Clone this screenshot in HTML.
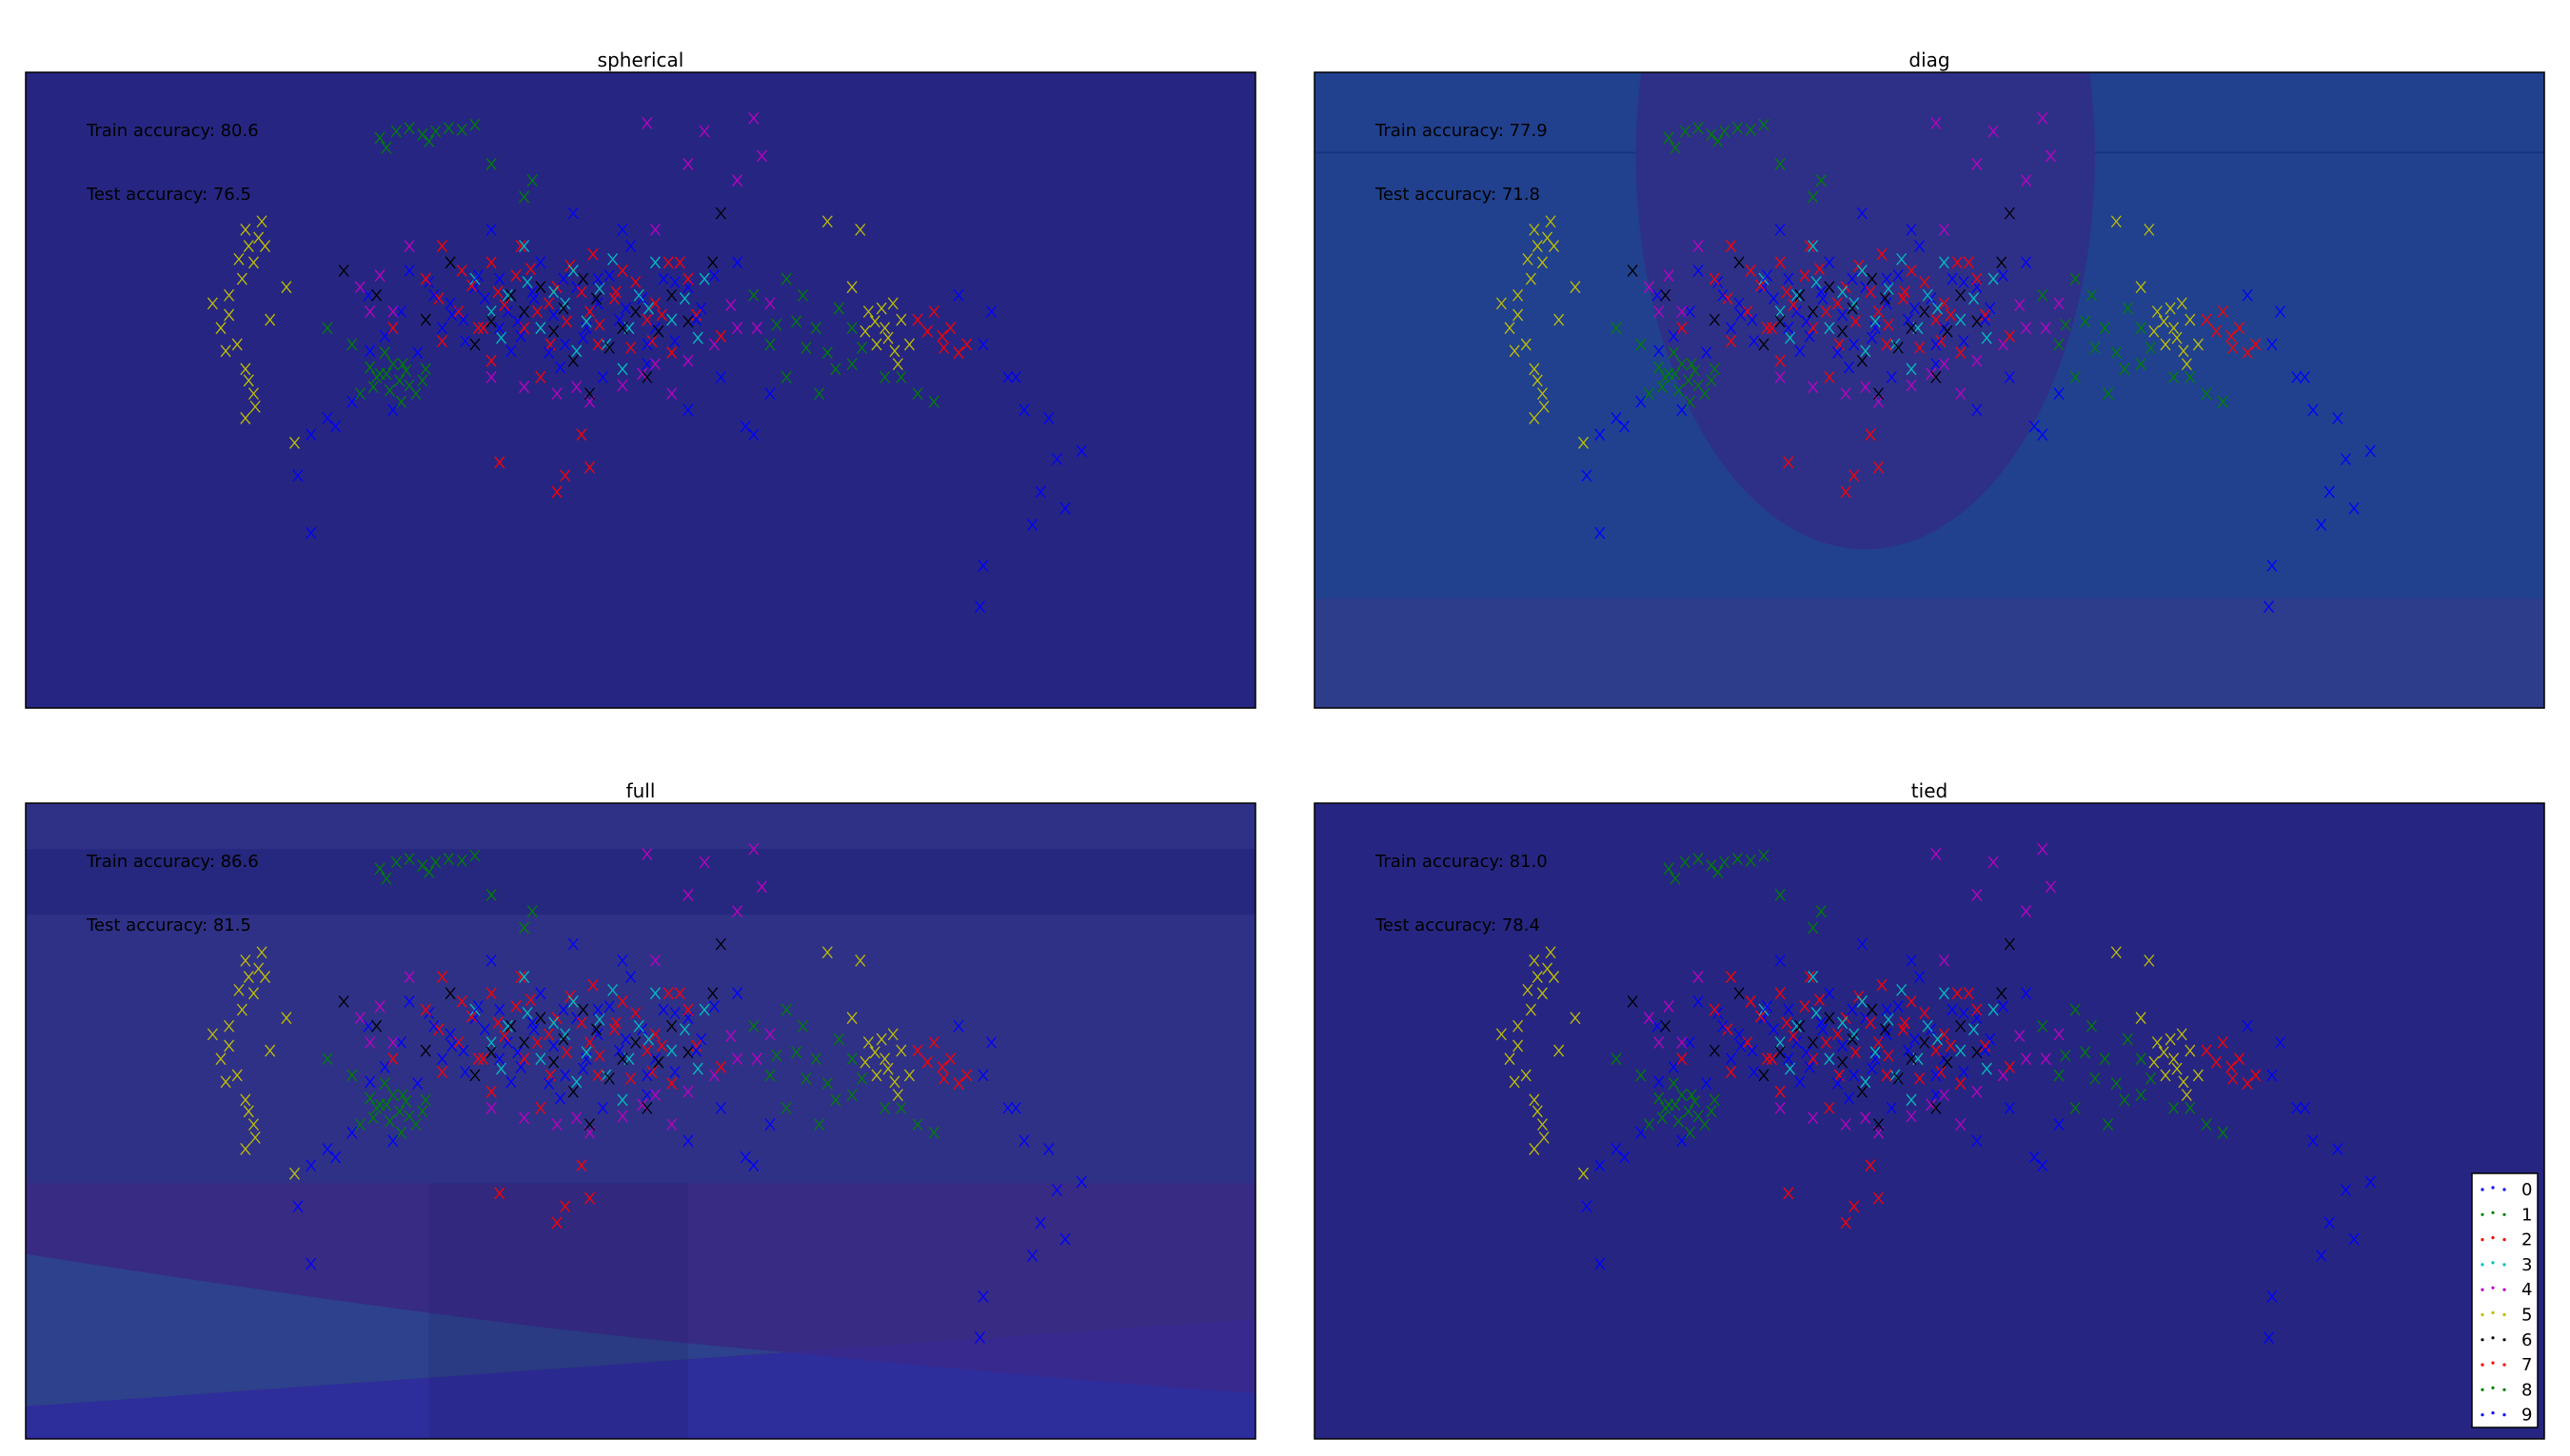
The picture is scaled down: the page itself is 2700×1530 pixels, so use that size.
<!DOCTYPE html>
<html><head><meta charset="utf-8">
<style>
html,body{margin:0;padding:0;background:#fff;}
body{width:2700px;height:1525px;overflow:hidden;font-family:"Liberation Sans","DejaVu Sans",sans-serif;}
svg text{font-family:"DejaVu Sans","Liberation Sans",sans-serif;}
</style></head>
<body>
<svg id="fig" width="2700" height="1525" viewBox="0 0 2700 1525" xmlns="http://www.w3.org/2000/svg">
<defs>
<clipPath id="c0"><rect x="27" y="76" width="1292" height="668"/></clipPath>
<clipPath id="c1"><rect x="1381" y="76" width="1292" height="668"/></clipPath>
<clipPath id="c2"><rect x="27" y="844" width="1292" height="668"/></clipPath>
<clipPath id="c3"><rect x="1381" y="844" width="1292" height="668"/></clipPath>
</defs>
</svg>
<script>
// data in reference-figure units (x 16..766, y 44..432 for the top-left panel)
const panelTitles = ["spherical","diag","full","tied"];
const trainAcc = ["80.6","77.9","86.6","81.0"];
const testAcc = ["76.5","71.8","81.5","78.4"];
const classLabels = ["0","1","2","3","4","5","6","7","8","9"];
const classColors = ["#0000ff","#008000","#ff0000","#00bfbf","#bf00bf","#bfbf00","#000000","#ff0000","#008000","#0000ff"];
const class0 = [[225,180],[250,165],[270,200],[290,175],[310,190],[330,160],[345,210],[365,185],[385,150],[400,200],[420,175],[440,230],[455,260],[600,210],[615,230],[625,250],[640,255],[645,280],[635,300],[650,310],[630,320],[660,275],[600,345],[598,370],[190,325],[182,290],[205,260],[215,245],[350,130],[380,140],[300,140],[420,250],
 [262,172],[275,185],[283,195],[296,182],[305,170],[318,205],[325,178],[338,192],[352,175],[358,200],[372,168],[378,195],[392,182],[405,170],[412,208],[428,188],[436,168],[284,208],[312,214],[342,224],[368,230],[395,222],[255,215],[245,190]];
const class1 = [[232,84],[242,80],[250,78],[258,82],[266,80],[274,78],[282,79],[290,76],[236,90],[262,86],[300,100],[520,200],[490,180],[505,215],[540,230],[560,240],[230,230],[240,222],[250,235],[220,240],[260,225],[470,210],[480,230],[320,120],
 [236,228],[244,232],[228,236],[248,226],[254,240],[226,224],[498,200],[512,188],[526,212],[486,196]];
const class2 = [[260,170],[280,190],[300,160],[320,200],[340,175],[360,190],[380,165],[400,185],[420,170],[300,220],[330,230],[560,195],[575,205],[585,215],[570,190],[345,290],[360,285],[340,300],[305,282],[355,265],[240,200],[410,215],
 [268,182],[288,174],[308,186],[315,168],[328,190],[348,162],[355,178],[366,198],[375,182],[388,172],[398,208],[408,160],[425,192],[292,200],[270,208],[336,210],[385,212],[318,150],[362,155]];
const class3 = [[290,170],[310,180],[330,200],[350,165],[370,210],[390,180],[410,195],[430,170],[320,150],[380,225],[400,160],[345,185],
 [300,190],[322,172],[338,178],[358,196],[366,176],[384,200],[396,188],[418,182],[426,206],[306,206],[352,214],[374,158]];
const class4 = [[220,175],[240,190],[300,230],[340,240],[380,235],[420,220],[450,200],[470,185],[430,80],[460,72],[465,95],[450,110],[420,100],[400,140],[250,150],[360,245],[410,240],[395,75],
 [226,190],[232,168],[320,236],[352,236],[392,228],[436,210],[446,186],[462,200],[400,222]];
const class5 = [[150,140],[158,145],[162,150],[155,160],[148,170],[160,135],[140,180],[135,200],[145,210],[150,225],[155,240],[150,255],[130,185],[165,195],[175,175],[530,190],[540,200],[545,185],[535,210],[550,195],[520,175],[555,210],[525,140],[505,135],[180,270],
 [152,150],[146,158],[140,192],[138,214],[152,232],[156,248],[534,196],[542,206],[546,214],[538,188],[528,202],[548,222]];
const class6 = [[210,165],[230,180],[260,195],[290,210],[320,190],[350,220],[380,200],[410,180],[435,160],[440,130],[360,240],[330,175],[395,230],[275,160],
 [300,196],[312,180],[338,202],[364,182],[372,212],[388,190],[402,202],[420,196],[344,188],[356,170]];
const class7 = [[270,150],[295,200],[335,185],[365,210],[395,195],[415,160],[440,205],[590,210],[580,200],
 [282,165],[304,178],[324,164],[346,196],[376,178],[404,192],[566,202],[576,212]];
const class8 = [[200,200],[215,210],[235,215],[245,245],[480,170],[510,225],[550,230],[500,240],[460,180],[570,245],[325,110],
 [238,238],[246,222],[232,228],[258,232],[474,198],[520,222],[492,212]];
const class9 = [[235,205],[265,180],[305,200],[335,215],[365,170],[395,210],[425,195],[450,160],[585,180],[605,190],[620,230],[190,265],[200,255],[470,240],[460,265],
 [276,192],[292,168],[316,196],[326,182],[344,170],[356,206],[382,188],[412,172],[226,214],[240,250]];
const classPoints = [class0,class1,class2,class3,class4,class5,class6,class7,class8,class9];

const NS="http://www.w3.org/2000/svg";
const svg=document.getElementById('fig');
const panels=[{x:27,y:76},{x:1381,y:76},{x:27,y:844},{x:1381,y:844}];
const S=1.7225;
function mk(tag,attrs,parent){const e=document.createElementNS(NS,tag);for(const k in attrs)e.setAttribute(k,attrs[k]);(parent||svg).appendChild(e);return e;}
function sx(p,x){return p.x+(x-16)*S;}
function sy(p,y){return p.y+(y-44)*S;}

panels.forEach((p,i)=>{
  const g=mk('g',{'clip-path':'url(#c'+i+')'});
  
  
  const bgc=['#262682','#21418f','#2f3187','#262682'][i];
  const bg=mk('rect',{x:p.x,y:p.y,width:1292,height:668,fill:bgc},g);
  
  
  if(i===1){
    mk('rect',{x:p.x,y:sy(p,365),width:1292,height:sy(p,432)-sy(p,365),fill:'#2e3c8c'},g);
    mk('line',{x1:p.x,x2:p.x+1292,y1:sy(p,93),y2:sy(p,93),stroke:'#17357f','stroke-width':2},g);
    const el=mk('ellipse',{cx:sx(p,1138-786),cy:sy(p,95),rx:140*S,ry:240*S,fill:'#2e3088'},g);
    
    
  }
  if(i===2){
    const Y=v=>p.y+(v-490)*S, X=v=>p.x+(v-16)*S;
    mk('rect',{x:p.x,y:Y(518),width:1292,height:Y(558)-Y(518),fill:'#25287e'},g);
    mk('rect',{x:p.x,y:Y(722),width:1292,height:Y(878)-Y(722),fill:'#372b84'},g);
    mk('path',{d:`M${X(16)} ${Y(858)} L${X(766)} ${Y(805)} L${X(766)} ${Y(878)} L${X(16)} ${Y(878)} Z`,fill:'#2e2d9c'},g);
    mk('path',{d:`M${X(16)} ${Y(765)} Q${X(300)} ${Y(810)} ${X(480)} ${Y(825)} L${X(16)} ${Y(858)} Z`,fill:'#2e418c'},g);
    mk('path',{d:`M${X(480)} ${Y(825)} Q${X(650)} ${Y(842)} ${X(766)} ${Y(850)} L${X(766)} ${Y(805)} Z`,fill:'#38298f'},g);
    mk('rect',{x:X(262),y:Y(722),width:X(420)-X(262),height:Y(878)-Y(722),fill:'#1a1a60','fill-opacity':0.18},g);
  }
  classPoints.forEach((pts,c)=>{
    pts.forEach(pt=>{
      const x=sx(p,pt[0]), y=sy(p,pt[1]);
      const m=mk('path',{d:`M${x-5} ${y-6}L${x+5} ${y+6}M${x+5} ${y-6}L${x-5} ${y+6}`,stroke:classColors[c],'stroke-width':1.3,fill:'none'},g);
      
      
    });
  });
  const fr=mk('rect',{x:p.x,y:p.y,width:1292,height:668,fill:'none',stroke:'#000','stroke-width':1.5});
  
  
  const t=mk('text',{x:p.x+646,y:p.y-6,'text-anchor':'middle','font-size':20,fill:'#000'});
  t.textContent=panelTitles[i];
  
  
  const a=mk('text',{x:p.x+64,y:p.y+67,'font-size':18,fill:'#000'});
  a.textContent='Train accuracy: '+trainAcc[i];
  
  
  const b=mk('text',{x:p.x+64,y:p.y+134,'font-size':18,fill:'#000'});
  b.textContent='Test accuracy: '+testAcc[i];
  
  
});

// legend in tied panel
const lg=mk('g',{});


mk('rect',{x:2597,y:1233,width:69,height:267,fill:'#fff',stroke:'#000','stroke-width':1.5},lg);
classLabels.forEach((l,c)=>{
  const y=1249+c*26.3;
  [2608,2619,2631].forEach((x,k)=>{mk('circle',{cx:x,cy:y+(k===1?-1:1),r:1.6,fill:classColors[c]},lg);});
  const t=mk('text',{x:2649,y:y+7,'font-size':18,fill:'#000'},lg);
  t.textContent=l;
  
  
});
</script>
</body></html>
